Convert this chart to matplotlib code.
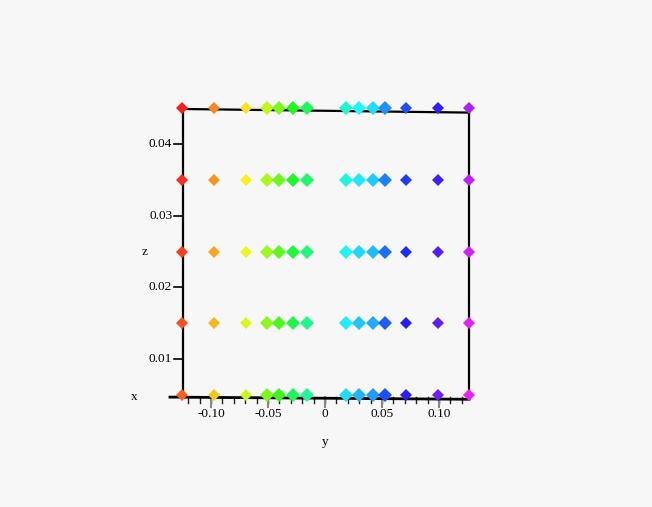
import numpy as np
import matplotlib as mpl
import matplotlib.pyplot as plt
import colorsys

font = {'family': 'Liberation Serif', 'size': 9.5}
mpl.rc('font', **font)

# point grid
y_vals = [-0.125, -0.097, -0.069, -0.051, -0.040, -0.028, -0.016,
          0.018, 0.030, 0.042, 0.053, 0.071, 0.099, 0.126]
z_vals = [0.005, 0.015, 0.025, 0.035, 0.045]

# styling per column: marker size and hue of the top row
msize = [6.0, 6.0, 6.0, 7.6, 7.6, 7.0, 6.8,
         6.8, 7.0, 7.2, 7.6, 6.4, 6.0, 6.2]
hue_top = [0.0, 0.08, 0.15, 0.21, 0.26, 0.33, 0.38,
           0.47, 0.50, 0.52, 0.58, 0.63, 0.68, 0.78]

y_ticks = [-0.10, -0.05, 0, 0.05, 0.10]
y_ticklabels = ['-0.10', '-0.05', '0', '0.05', '0.10']
z_ticks = [0.01, 0.02, 0.03, 0.04]
z_ticklabels = ['0.01', '0.02', '0.03', '0.04']

bg = '#f7f7f7'
fig = plt.figure(figsize=(6.52, 5.07), dpi=100, facecolor=bg)
ax = fig.add_axes([0, 0, 1, 1])
ax.set_facecolor(bg)
ax.axis('off')
# pixel-ish mapping: 1140 px per unit in y, 7167 px per unit in z
ax.set_xlim(-325 / 1140, 327 / 1140)
ax.set_ylim((430.8 - 507) / 7167, 430.8 / 7167)

# box frame
yl, yr = -0.1246, 0.1263
zb, zt = 0.0047, 0.0449
ax.plot([yl, yl], [zb, zt], color='black', lw=1.6, zorder=2)
ax.plot([yl, yr], [zt, zt - 0.0005], color='black', lw=1.6, zorder=2)
ax.plot([yr, yr], [zt - 0.0005, zb - 0.0003], color='black', lw=1.6, zorder=2)
ax.plot([-0.136, yr], [zb, zb - 0.0003], color='black', lw=2.0, zorder=2)

# y ticks along bottom
for t in np.arange(-0.12, 0.121, 0.01):
    ax.plot([t, t], [zb, zb - 0.0008], color='#222222', lw=1, zorder=1)
for t, lab in zip(y_ticks, y_ticklabels):
    ax.plot([t, t], [zb, zb - 0.0014], color='#888888', lw=1.5, zorder=1)
    ax.text(t, zb - 0.0023, lab, ha='center', va='center')

# z ticks along left edge
for t, lab in zip(z_ticks, z_ticklabels):
    ax.plot([yl - 0.0075, yl], [t, t], color='black', lw=1.2, zorder=1)
    ax.text(yl - 0.0095, t, lab, ha='right', va='center')

ax.text(-0.167, zb, 'x', ha='center', va='center')
ax.text(0.0, (430.8 - 442) / 7167, 'y', ha='center', va='center')
ax.text(-0.158, (430.8 - 252) / 7167, 'z', ha='center', va='center')

# points
for j, y in enumerate(y_vals):
    for z in z_vals:
        h = hue_top[j] + 0.05 * (0.045 - z) / 0.04
        c = colorsys.hsv_to_rgb(h % 1.0, 0.88, 0.97)
        ax.plot([y], [z], marker='D', ms=msize[j], color=c,
                markeredgewidth=0, linestyle='none', zorder=3)

plt.savefig('out.png', dpi=100, facecolor=bg)
